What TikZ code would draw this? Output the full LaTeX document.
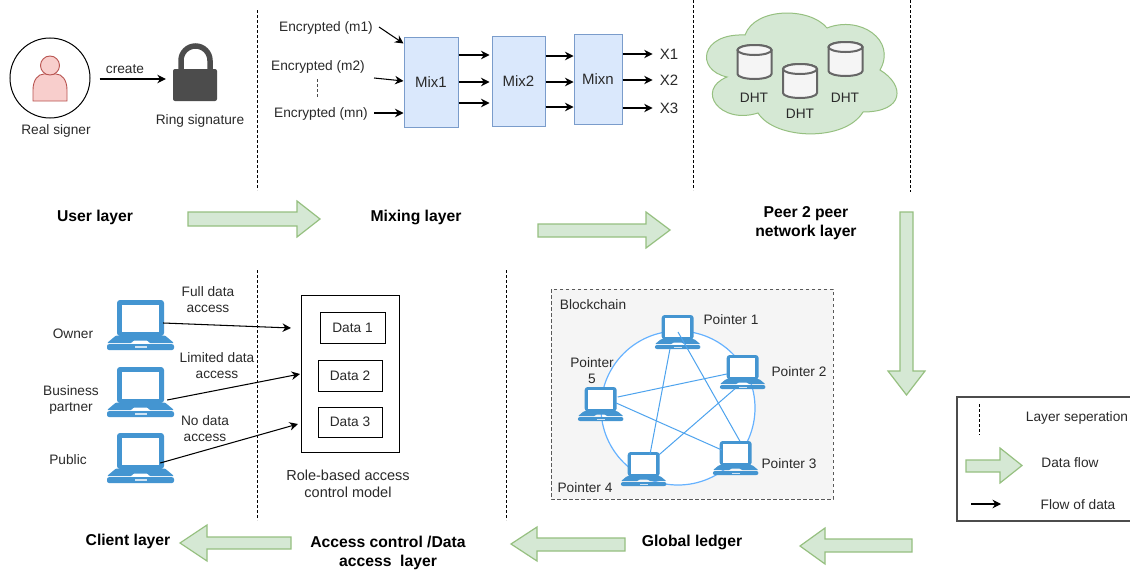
\documentclass[tikz,border=0pt]{standalone}
\usepackage{fontspec}
\setmainfont{Liberation Sans}
\usetikzlibrary{arrows.meta}
\definecolor{txt}{HTML}{2A2A2A}
\definecolor{lapblue}{HTML}{4495D1}
\definecolor{ringblue}{HTML}{66B2FF}
\definecolor{lineblue}{HTML}{4DA3EE}
\definecolor{mixfill}{HTML}{DAE8FC}
\definecolor{mixline}{HTML}{7A9CCB}
\definecolor{gfill}{HTML}{D5E8D4}
\definecolor{gline}{HTML}{96C080}
\definecolor{pfill}{HTML}{F8CECC}
\definecolor{pline}{HTML}{B85450}
\newcommand{\szA}{\fontsize{13.7}{16}\selectfont}
\newcommand{\szM}{\fontsize{15}{17}\selectfont}
\newcommand{\szB}{\fontsize{14.5}{17}\selectfont}
\newcommand{\szT}{\fontsize{15.7}{19}\selectfont\bfseries}
\tikzset{
  lbl/.style={text=txt,font=\szA,align=center,inner sep=0pt,yshift=-1pt},
  lblb/.style={text=txt,font=\szB,align=center,inner sep=0pt,yshift=-1pt},
  lblm/.style={text=txt,font=\szM,align=center,inner sep=0pt},
  title/.style={text=black,font=\szT,align=center,inner sep=0pt,yshift=-1.5pt},
  flow/.style={-{Stealth[length=8.5pt,width=8.5pt]},line width=1.05pt,black},
  mixbox/.style={draw=mixline,fill=mixfill,line width=1pt,inner sep=0pt,text=txt,font=\szM},
  databox/.style={draw=black,line width=1pt,fill=white,inner sep=0pt,text=txt,font=\szA},
  layerline/.style={black,line width=.9pt,dash pattern=on 3pt off 2pt},
  blockarrow/.style={draw=gline,fill=gfill,line width=1.2pt,line join=miter},
  holder/.style={inner sep=0pt,minimum width=45pt,minimum height=33pt},
  wire/.style={lineblue,line width=1pt},
  laptop/.pic={
    \fill[lapblue,rounded corners=3pt] (-24,-25) rectangle (23,11);
    \fill[white] (-19,-20) rectangle (18,7);
    \fill[lapblue,rounded corners=1pt] (-25,10.5) -- (24,10.5) -- (33,18) -- (8.5,18) -- (6.5,15.5) -- (-7.5,15.5) -- (-9.5,18) -- (-34,18) -- cycle;
    \fill[lapblue,rounded corners=2pt] (-34,19.2) rectangle (33,25);
    \fill[white!75!lapblue] (-6,21.4) rectangle (6,22.8);
  },
  cyl/.pic={
    \draw[draw=black!60,fill=black!4,line width=2pt] (-17,-12) -- (-17,12) arc[start angle=180,end angle=0,x radius=17,y radius=5] -- (17,-12) arc[start angle=0,end angle=-180,x radius=17,y radius=5];
    \draw[draw=black!60,fill=black!4,line width=2pt] (0,-12) ellipse[x radius=17,y radius=5];
  }
}
\begin{document}
\begin{tikzpicture}[x=1pt,y=-1pt]
\useasboundingbox (0,0) rectangle (1130,570);
\fill[white] (0,0) rectangle (1130,570);

% layer separators
\coordinate (s1a) at (257,10);  \coordinate (s1b) at (257,190);
\coordinate (s2a) at (693,0);   \coordinate (s2b) at (693,190);
\coordinate (s3a) at (910.5,0); \coordinate (s3b) at (910.5,192);
\coordinate (s4a) at (257,270); \coordinate (s4b) at (257,520);
\coordinate (s5a) at (506,270); \coordinate (s5b) at (506,520);
\foreach \i in {1,...,5} \draw[layerline] (s\i a) -- (s\i b);

% user layer
\node[circle,draw=black,line width=1pt,fill=white,minimum size=80pt,inner sep=0pt] (signer) at (50,78) {};
\draw[pline,fill=pfill,line width=.9pt] (33,101) -- (33,90) .. controls (33,80) and (38,74) .. (44,74) -- (56,74) .. controls (62,74) and (67,80) .. (67,90) -- (67,101) -- cycle;
\draw[pline,fill=pfill,line width=.9pt] (50,65.5) circle[radius=9.5];
\node[lbl] (rs) at (56,130) {Real signer};
\node[lbl] (create) at (125,68) {create};
\node[inner sep=0pt,minimum width=44pt,minimum height=32pt,fill=black!70,rounded corners=2pt] (lock) at (195,85) {};
\draw[black!70,line width=5.5pt] (181,72) -- (181,60.5) arc[start angle=180,end angle=360,x radius=14.5,y radius=14.5] -- (210,72);
\node[lbl] (ring) at (200,120) {Ring signature};
\coordinate (ca) at ([xshift=9pt,yshift=-1pt]signer.east);
\draw[flow] (ca) -- ([xshift=-7pt]ca -| lock.west);

% mixing layer
\node[lbl] (e1) at (326,27) {Encrypted (m1)};
\node[lbl] (e2) at (318,66) {Encrypted (m2)};
\node[lbl] (en) at (321,113) {Encrypted (mn)};
\coordinate (da) at (317,79); \coordinate (db) at (317,97);
\draw[black!70,line width=.9pt,dash pattern=on 3pt off 2pt] (da) -- (db);
\node[mixbox,minimum width=54pt,minimum height=90pt] (m1) at (431,82) {Mix1};
\node[mixbox,minimum width=53pt,minimum height=90pt] (m2) at (518.5,81) {Mix2};
\node[mixbox,minimum width=48pt,minimum height=90pt] (mn) at (598,79) {Mixn};
\draw[flow] ([xshift=6pt,yshift=1pt]e1.east) -- ([yshift=-7pt]m1.north west);
\draw[flow] ([xshift=9pt,yshift=-11pt]e2.east) -- ([yshift=1pt]m1.west);
\draw[flow] ([xshift=6pt,yshift=1pt]en.east) -- ([yshift=1pt]en.east -| m1.west);
\foreach \d in {27,0,-21}
  \draw[flow] ([yshift=\d pt]m1.east) -- ([xshift=-2pt,yshift=\d pt]m1.east -| m2.west);
\foreach \d in {25,-1,-26}
  \draw[flow] ([yshift=\d pt]m2.east) -- ([yshift=\d pt]m2.east -| mn.west);
\node[lblm] (x1) at (669,54) {X1};
\node[lblm] (x2) at (669,80) {X2};
\node[lblm] (x3) at (669,108) {X3};
\draw[flow] (mn.east |- x1) -- ([xshift=-7pt]x1.west);
\draw[flow] (mn.east |- x2) -- ([xshift=-7pt]x2.west);
\draw[flow] (mn.east |- x3) -- ([xshift=-7pt]x3.west);

% cloud
\draw[draw=gline,fill=gfill,line width=1pt] (745,35) .. controls (755,7) and (810,7) .. (827,28) .. controls (860,15) and (897,40) .. (880,70) .. controls (905,85) and (905,112) .. (863,112) .. controls (845,142) and (775,140) .. (758,113) .. controls (720,125) and (695,90) .. (727,77) .. controls (695,70) and (700,33) .. (745,35) -- cycle;
\pic at (754.5,62) {cyl};
\pic at (800,81) {cyl};
\pic at (845.5,59) {cyl};
\node[lbl] (d1) at (754,97) {DHT};
\node[lbl] (d2) at (800,113) {DHT};
\node[lbl] (d3) at (845,97) {DHT};

% layer titles
\node[title] (t1) at (95,216) {User layer};
\node[title] (t2) at (416,216) {Mixing layer};
\node[title] (t3) at (806,222) {Peer 2 peer\\network layer};
\node[title] (t4) at (692,541) {Global ledger};
\node[title] (t5) at (388,551) {Access control /Data\\access\ \ layer};
\node[title] (t6) at (128,540) {Client layer};

% block arrows
\draw[blockarrow] (188,212) -- (297,212) -- (297,201) -- (320,219) -- (297,237) -- (297,226) -- (188,226) -- cycle;
\draw[blockarrow] (538,224) -- (646,224) -- (646,212) -- (670,230) -- (646,248) -- (646,237) -- (538,237) -- cycle;
\draw[blockarrow] (900,212) -- (913,212) -- (913,371) -- (925,371) -- (906.5,395) -- (888,371) -- (900,371) -- cycle;
\draw[blockarrow] (912,539) -- (825,539) -- (825,528) -- (800,546) -- (825,564) -- (825,552) -- (912,552) -- cycle;
\draw[blockarrow] (625,538) -- (537,538) -- (537,527) -- (511,544) -- (537,561) -- (537,551) -- (625,551) -- cycle;
\draw[blockarrow] (291,537) -- (207,537) -- (207,525) -- (180,543) -- (207,561) -- (207,549) -- (291,549) -- cycle;

% clients
\node[inner sep=0pt,minimum width=66pt,minimum height=49pt] (l1) at (141,325) {};
\node[inner sep=0pt,minimum width=66pt,minimum height=49pt] (l2) at (141,392) {};
\node[inner sep=0pt,minimum width=66pt,minimum height=49pt] (l3) at (141,458) {};
\pic at (l1.center) {laptop};
\pic at (l2.center) {laptop};
\pic at (l3.center) {laptop};
\node[lbl] (o1) at (73,333) {Owner};
\node[lbl] (o2) at (71,399) {Business\\partner};
\node[lbl] (o3) at (68,459) {Public};
\node[lbl] (a1) at (208,299) {Full data\\access};
\node[lbl] (a2) at (217,365) {Limited data\\access};
\node[lbl] (a3) at (205,428) {No data\\access};
\node[draw=black,line width=1pt,fill=white,minimum width=98pt,minimum height=157pt,inner sep=0pt] (role) at (350,373.5) {};
\node[databox,minimum width=65pt,minimum height=31pt] (r1) at (352.5,327.5) {Data 1};
\node[databox,minimum width=64pt,minimum height=31pt] (r2) at (350,375.5) {Data 2};
\node[databox,minimum width=64pt,minimum height=30pt] (r3) at (350,422) {Data 3};
\node[lblb] (rb) at (348,483) {Role-based access\\control model};
\coordinate (e1t) at (291,328);
\coordinate (e2t) at (300,374);
\coordinate (e3t) at (298,424);
\draw[flow] ([xshift=-11pt,yshift=2pt]l1.east) -- (e1t);
\draw[flow] ([xshift=-7pt,yshift=-8pt]l2.east) -- (e2t);
\draw[flow] ([xshift=-14pt,yshift=-5pt]l3.east) -- (e3t);

% blockchain
\draw[black!65,fill=black!4,line width=.9pt,dash pattern=on 3.5pt off 2.5pt] (551,289) rectangle (833,499);
\node[lbl] (bc) at (593,304) {Blockchain};
\node[circle,draw=ringblue,fill=white,line width=1.2pt,minimum size=154pt,inner sep=0pt] (ringc) at (678,408) {};
\node[holder] (p1) at (678,332) {};
\node[holder] (p2) at (743,372) {};
\node[holder] (p3) at (736,458) {};
\node[holder] (p4) at (644,469) {};
\node[holder] (p5) at (601,404) {};
\foreach \n in {p1,p2,p3,p4,p5}
  \pic[scale=.68] at (\n.center) {laptop};
\draw[wire] (p1.center) -- ([xshift=4pt]p3.north);
\draw[wire] ([xshift=-8pt]p1.south) -- ([xshift=6pt,yshift=-2pt]p4.north);
\draw[wire] ([xshift=-6pt,yshift=7pt]p5.east) -- ([xshift=6.5pt,yshift=-2pt]p2.west);
\draw[wire] ([xshift=-7.5pt,yshift=1pt]p5.east) -- ([xshift=8.5pt,yshift=8pt]p3.west);
\draw[wire] ([xshift=-8pt]p2.south) -- ([xshift=15pt,yshift=-2.5pt]p4.north);
\node[lbl] (q1) at (731,319) {Pointer 1};
\node[lbl] (q2) at (799,371) {Pointer 2};
\node[lbl] (q3) at (789,463) {Pointer 3};
\node[lbl] (q4) at (585,487) {Pointer 4};
\node[lbl] (q5) at (592,370) {Pointer\\5};

% legend
\draw[black!70,line width=1.2pt] (1130,397) -- (957,397) -- (957,521) -- (1130,521);
\coordinate (ka) at (979,404); \coordinate (kb) at (979,435);
\draw[layerline] (ka) -- (kb);
\node[lbl] (k1) at (1077,417) {Layer seperation};
\draw[blockarrow] (966,460) -- (1000,460) -- (1000,448) -- (1022,465.5) -- (1000,483) -- (1000,472) -- (966,472) -- cycle;
\node[lbl] (k2) at (1070,462) {Data flow};
\coordinate (kc) at (971,504);
\coordinate (kd) at (1001,504);
\node[lbl] (k3) at (1078,504) {Flow of data};
\draw[flow] (kc) -- (kd);
\end{tikzpicture}
\end{document}
